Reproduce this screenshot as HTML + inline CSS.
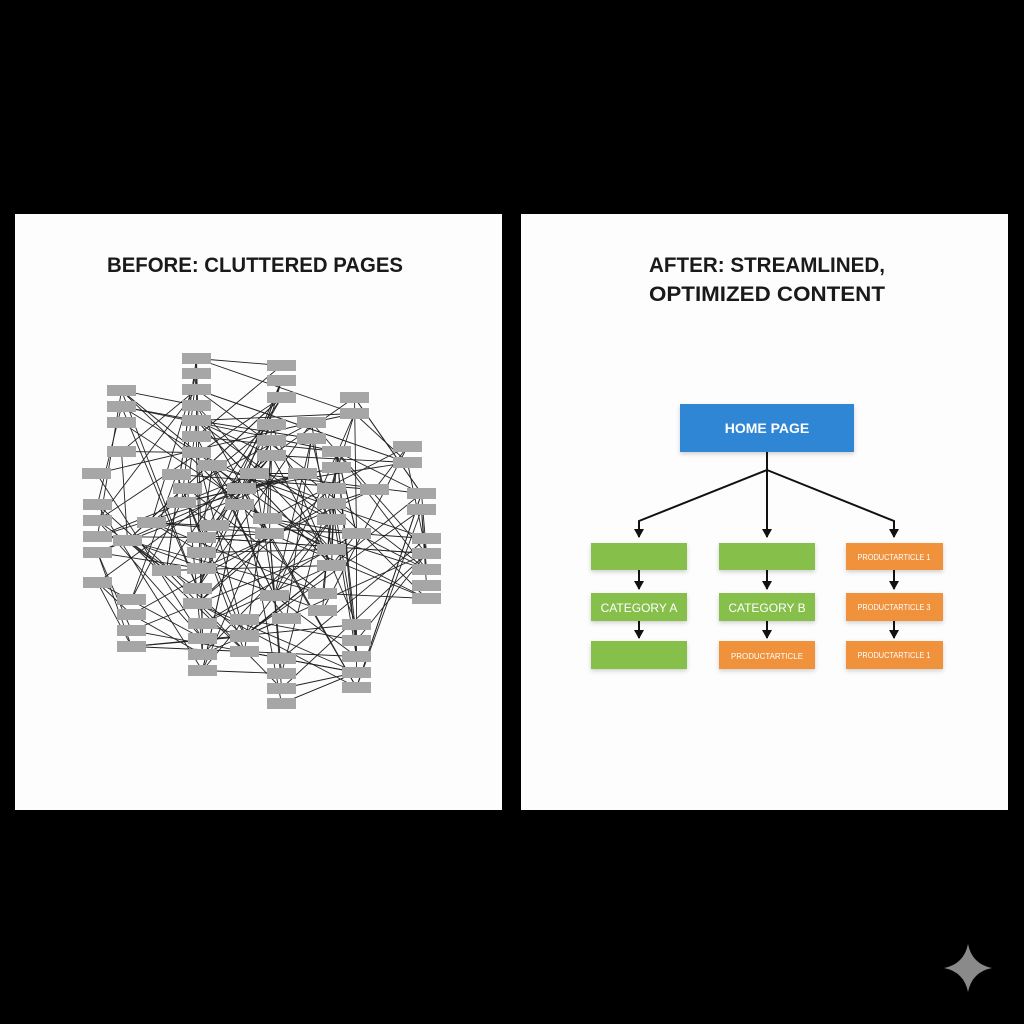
<!DOCTYPE html>
<html><head><meta charset="utf-8"><style>
html,body{margin:0;padding:0;background:#000;}
svg{display:block}
</style></head><body>
<svg id="s" width="1024" height="1024" viewBox="0 0 1024 1024" xmlns="http://www.w3.org/2000/svg">
<defs>
<marker id="a" markerWidth="6" markerHeight="6" refX="5" refY="3" orient="auto" markerUnits="userSpaceOnUse"><path d="M0,0 L6,3 L0,6 z" fill="#222"/></marker>
<marker id="b" markerWidth="10" markerHeight="10" refX="8" refY="5" orient="auto" markerUnits="userSpaceOnUse"><path d="M0,0 L9,5 L0,10 z" fill="#111"/></marker>
<filter id="sh" x="-20%" y="-20%" width="140%" height="160%"><feDropShadow dx="0" dy="2" stdDeviation="2" flood-color="#000" flood-opacity="0.18"/></filter>
</defs>
<rect width="1024" height="1024" fill="#000"/>
<rect x="15" y="214" width="487" height="596" fill="#fdfdfd"/>
<rect x="521" y="214" width="487" height="596" fill="#fdfdfd"/>
<text x="255" y="272" text-anchor="middle" font-family="Liberation Sans, sans-serif" font-weight="bold" font-size="21" fill="#1a1a1a" textLength="296" lengthAdjust="spacingAndGlyphs">BEFORE: CLUTTERED PAGES</text>
<text x="767" y="272" text-anchor="middle" font-family="Liberation Sans, sans-serif" font-weight="bold" font-size="21" fill="#1a1a1a" textLength="236" lengthAdjust="spacingAndGlyphs">AFTER: STREAMLINED,</text>
<text x="767" y="301" text-anchor="middle" font-family="Liberation Sans, sans-serif" font-weight="bold" font-size="21" fill="#1a1a1a" textLength="236" lengthAdjust="spacingAndGlyphs">OPTIMIZED CONTENT</text>
<g id="lines" stroke="#222" stroke-width="0.9" fill="none"></g>
<g id="boxes" fill="#a6a6a6"></g>

<rect x="680" y="404" width="174" height="48" fill="#2f86d4" filter="url(#sh)"/>
<text x="767" y="433" text-anchor="middle" font-family="Liberation Sans, sans-serif" font-weight="bold" font-size="14" fill="#fff">HOME PAGE</text>
<g stroke="#111" stroke-width="2" fill="none">
<path d="M767,452 L767,470 L639,521 L639,537" marker-end="url(#b)"/>
<path d="M767,470 L767,537" marker-end="url(#b)"/>
<path d="M767,470 L894,521 L894,537" marker-end="url(#b)"/>
<path d="M639,570 L639,589" marker-end="url(#b)"/>
<path d="M639,621 L639,638" marker-end="url(#b)"/>
<path d="M767,570 L767,589" marker-end="url(#b)"/>
<path d="M767,621 L767,638" marker-end="url(#b)"/>
<path d="M894,570 L894,589" marker-end="url(#b)"/>
<path d="M894,621 L894,638" marker-end="url(#b)"/>
</g>
<g filter="url(#sh)">
<rect x="591" y="543" width="96" height="27" fill="#86c04b"/>
<rect x="591" y="593" width="96" height="28" fill="#86c04b"/>
<rect x="591" y="641" width="96" height="28" fill="#86c04b"/>
<rect x="719" y="543" width="96" height="27" fill="#86c04b"/>
<rect x="719" y="593" width="96" height="28" fill="#86c04b"/>
<rect x="719" y="641" width="96" height="28" fill="#f0913b"/>
<rect x="846" y="543" width="97" height="27" fill="#f0913b"/>
<rect x="846" y="593" width="97" height="28" fill="#f0913b"/>
<rect x="846" y="641" width="97" height="28" fill="#f0913b"/>
</g>
<g font-family="Liberation Sans, sans-serif" fill="#fff" text-anchor="middle">
<text x="639" y="612" font-size="12">CATEGORY A</text>
<text x="767" y="612" font-size="12">CATEGORY B</text>
<text x="767" y="659" font-size="8" textLength="72" lengthAdjust="spacingAndGlyphs">PRODUCTARTICLE</text>
<text x="894" y="560" font-size="8" textLength="73" lengthAdjust="spacingAndGlyphs">PRODUCTARTICLE 1</text>
<text x="894" y="610" font-size="8" textLength="73" lengthAdjust="spacingAndGlyphs">PRODUCTARTICLE 3</text>
<text x="894" y="658" font-size="8" textLength="73" lengthAdjust="spacingAndGlyphs">PRODUCTARTICLE 1</text>
</g>
<path d="M968,944 Q972,964 992,968 Q972,972 968,992 Q964,972 944,968 Q964,964 968,944 Z" fill="#8a8a8a"/>
</svg>
<script>
var B=[[182,353],[182,368],[182,384],[182,400],[182,415],[182,431],[182,447],
[267,360],[267,375],[267,392],[340,392],[340,408],
[107,385],[107,401],[107,417],[107,446],
[393,441],[393,457],[407,488],[407,504],
[412,533],[412,548],[412,564],[412,580],[412,593],
[82,468],[83,499],[83,515],[83,531],[83,547],[83,577],
[117,594],[117,609],[117,625],[117,641],
[188,618],[188,633],[188,649],[188,665],
[230,614],[230,631],[230,646],
[267,653],[267,668],[267,683],[267,698],
[342,619],[342,635],[342,651],[342,667],[342,682],
[198,460],[162,469],[240,468],[173,483],[167,497],[227,483],[225,499],
[257,419],[257,435],[257,450],[297,417],[297,433],[288,468],[322,446],[322,462],
[317,483],[317,498],[317,514],[360,484],[137,517],[113,535],[187,532],[187,547],[187,563],
[200,520],[253,513],[255,528],[342,528],[317,544],[317,560],[152,565],[183,583],[183,598],
[260,590],[308,588],[308,605],[272,613],[230,630]];
var ns="http://www.w3.org/2000/svg";
var gb=document.getElementById("boxes"),gl=document.getElementById("lines");
var seed=7;function rnd(){seed=(seed*16807)%2147483647;return seed/2147483647;}
for(var i=0;i<300;i++){var p=B[Math.floor(rnd()*B.length)],q=B[Math.floor(rnd()*B.length)];
if(p===q)continue;var dx=q[0]-p[0],dy=q[1]-p[1];var d=Math.sqrt(dx*dx+dy*dy);if(d<40||d>230)continue;
var l=document.createElementNS(ns,"line");l.setAttribute("x1",p[0]+14.5);l.setAttribute("y1",p[1]+5.5);l.setAttribute("x2",q[0]+14.5);l.setAttribute("y2",q[1]+5.5);l.setAttribute("marker-end","url(#a)");gl.appendChild(l);}
B.forEach(function(b){var r=document.createElementNS(ns,"rect");r.setAttribute("x",b[0]);r.setAttribute("y",b[1]);r.setAttribute("width",29);r.setAttribute("height",11);gb.appendChild(r);});
</script>
</body></html>
